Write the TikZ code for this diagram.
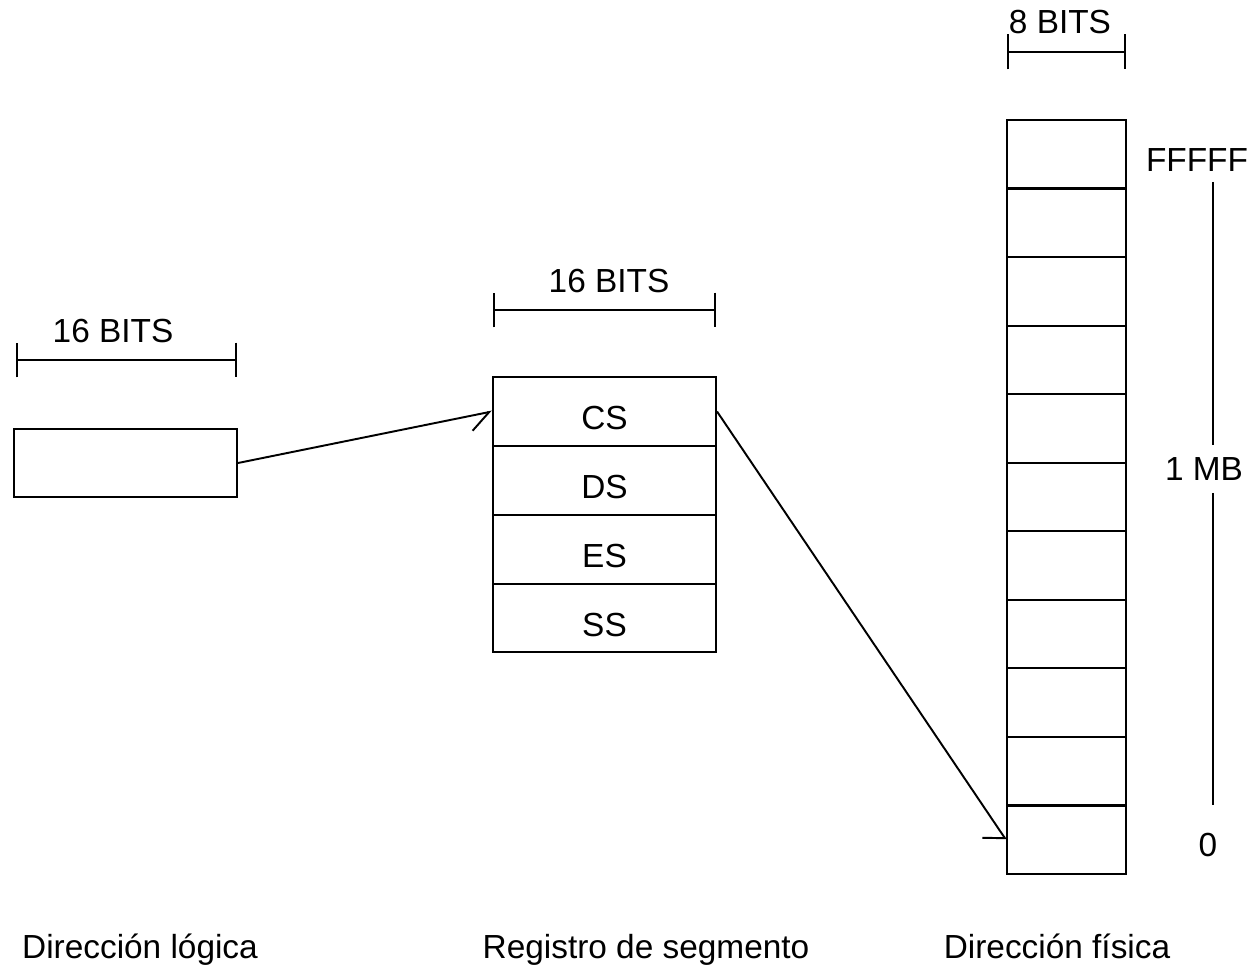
\documentclass[tikz,border=0pt]{standalone}
\usepackage{fontspec}
\setmainfont{Liberation Sans}
\usetikzlibrary{arrows.meta}
\begin{document}
\begin{tikzpicture}[x=0.02cm,y=-0.02cm,
  every node/.style={font=\fontsize{19pt}{22pt}\selectfont},
  box/.style={draw,line width=1.2pt,inner sep=0pt,minimum width=4.46cm,minimum height=1.37cm},
  cell/.style={box,text height=0.74cm,text depth=0pt},
  mem/.style={draw,line width=1.2pt,inner sep=0pt,minimum width=2.38cm,minimum height=1.3709cm},
  dim/.style={line width=1.2pt,{Bar[width=0.7cm,line width=1.2pt]}-{Bar[width=0.7cm,line width=1.2pt]}},
  lbl/.style={inner sep=0pt},
  conn/.style={line width=1.1pt}]
\useasboundingbox (0,0) rectangle (1255,969);
% left box
\node[box] (lb) at (125.5,463) {};
\draw[dim] (16,360) -- (237,360);
\node[lbl] (lbits) at (113,331) {16 BITS};
% segment registers
\node[cell] (cs) at (604.5,411.5) {CS};
\node[cell] (ds) at (604.5,480.5) {DS};
\node[cell] (es) at (604.5,549.5) {ES};
\node[cell] (ss) at (604.5,618) {SS};
\draw[dim] (493,310) -- (716,310);
\node[lbl] (mbits) at (609,281) {16 BITS};
% memory
\foreach \i in {1,...,11}{
  \node[mem] (m\i) at (1066.5,{120+(\i-0.5)*68.545}) {};
}
\draw[dim] (1007,52) -- (1126,52);
\node[lbl] (rbits) at (1060,22) {8 BITS};
\node[lbl] (ffff) at (1197,160) {FFFFF};
\node[lbl] (onemb) at (1204,469) {1 MB};
\node[lbl] (zero) at (1208,845) {0};
\coordinate (t1) at (1213,182);
\coordinate (t2) at (1213,445);
\coordinate (t3) at (1213,493);
\coordinate (t4) at (1213,805);
\draw[line width=1.2pt] (t1) -- (t2);
\draw[line width=1.2pt] (t3) -- (t4);
% connectors
\draw[conn,-{Straight Barb[right,angle=74:0.5cm,line width=1.1pt]}] (lb.east) -- (cs.west);
\draw[conn,-{Straight Barb[right,angle=110:0.45cm,line width=1.1pt]}] (cs.east) -- (m11.west);
% bottom labels
\node[lbl,anchor=base] (l1) at (140,958) {Dirección lógica};
\node[lbl,anchor=base] (l2) at (646,958) {Registro de segmento};
\node[lbl,anchor=base] (l3) at (1057,958) {Dirección física};
\end{tikzpicture}
\end{document}
